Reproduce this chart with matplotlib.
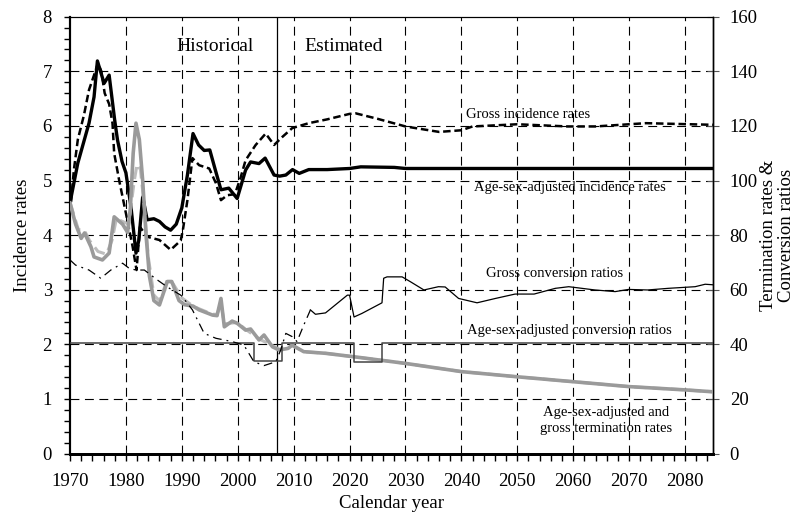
import matplotlib
matplotlib.use("Agg")
import matplotlib.pyplot as plt
from matplotlib.ticker import MultipleLocator

plt.rcParams['font.family'] = ['Liberation Serif', 'DejaVu Serif']

# ---------------- data ----------------
adj_inc_years = [1970, 1971.4, 1973.4, 1974.3, 1974.9, 1976.1, 1977, 1978, 1978.5, 1979.3, 1980,
                 1980.9, 1981.8, 1982.3, 1983, 1983.8, 1985, 1986, 1987, 1988, 1989, 1990, 1991,
                 1992, 1993, 1994, 1995, 1996, 1997, 1998.4, 1999.9, 2001.4, 2002.3, 2003.8,
                 2004.9, 2006.5, 2007.5, 2008.6, 2009.8, 2011, 2012.7, 2016, 2020, 2022, 2028,
                 2030, 2085]
adj_inc_values = [4.59, 5.32, 6.05, 6.53, 7.19, 6.78, 6.93, 6.1, 5.74, 5.35, 5.14,
                  4.52, 3.67, 3.9, 4.7, 4.28, 4.3, 4.25, 4.15, 4.09, 4.2, 4.5, 5.1,
                  5.86, 5.65, 5.55, 5.56, 5.19, 4.83, 4.86, 4.67, 5.19, 5.34, 5.31,
                  5.41, 5.10, 5.08, 5.10, 5.20, 5.13, 5.20, 5.20, 5.22, 5.25, 5.24,
                  5.22, 5.22]

gross_inc_years = [1970, 1970.7, 1971.4, 1972.5, 1973.4, 1974.4, 1975, 1975.6, 1976.2, 1977, 1977.6,
                   1977.9, 1978.8, 1980, 1981.2, 1981.9, 1982.5, 1983.8, 1986, 1988, 1989.8,
                   1990.2, 1991, 1991.9, 1993.1, 1994.9, 1996.1, 1997, 1998.1, 1999.5, 2000.5,
                   2001.4, 2003.2, 2005, 2006.5, 2008, 2009.75, 2012.7, 2016, 2020, 2021.1,
                   2025, 2030, 2036, 2040, 2042, 2050, 2059, 2064, 2073, 2085]
gross_inc_values = [4.4, 5.2, 5.75, 6.2, 6.66, 6.96, 7.15, 7.0, 6.6, 6.4, 6.05,
                    5.5, 5.0, 4.4, 3.79, 3.36, 4.15, 3.97, 3.91, 3.73, 3.9,
                    4.1, 4.64, 5.41, 5.28, 5.22, 4.95, 4.64, 4.73, 4.75, 5.05,
                    5.37, 5.65, 5.86, 5.65, 5.8, 5.96, 6.05, 6.12, 6.22, 6.23,
                    6.13, 5.99, 5.89, 5.92, 5.99, 6.03, 5.99, 5.99, 6.05, 6.02]

adj_term_years = [1970, 1971, 1972, 1972.6, 1973.75, 1974.3, 1975.8, 1977, 1977.9, 1979.4, 1980.3,
                  1980.8, 1981.3, 1981.8, 1982.4, 1983, 1983.6, 1984.2, 1985, 1986, 1987.4,
                  1988.2, 1989.5, 1990.5, 1992, 1993.1, 1995.5, 1996.3, 1997, 1997.6, 1999,
                  1999.9, 2001.4, 2002.3, 2003.8, 2004.7, 2006.2, 2007.4, 2009, 2009.75,
                  2011.8, 2015.7, 2021.7, 2030, 2040, 2050, 2060, 2070, 2080, 2085]
adj_term_values = [91.8, 84, 78.8, 80.8, 75.7, 72, 70.9, 73.4, 86.7, 84, 81,
                   90, 110, 121, 115, 100, 80, 65, 56, 54.4, 63,
                   63, 56, 54.5, 54, 52.6, 50.7, 50.5, 56.8, 46.4, 48.5,
                   47.7, 45.2, 45.6, 41.6, 43.4, 39.1, 37.9, 38.5, 39.7,
                   37.3, 36.7, 35.2, 33, 30, 28.1, 26.3, 24.5, 23.3, 22.6]

gross_term_years = [1970, 1971.5, 1972.5, 1973.5, 1975, 1976.5, 1977.5, 1978.3, 1979.4, 1980.5,
                    1981.5, 1982, 1982.6, 1983.3, 1984, 1985, 1986, 1987.5, 1988.5, 1990,
                    1992, 1993.1, 1995.5, 1996.3, 1997, 1997.6, 1999.9, 2001.4, 2003.8,
                    2006.2, 2007.4, 2009.75, 2011.8, 2015.7, 2021.7, 2030, 2040, 2050, 2060,
                    2070, 2080, 2085]
gross_term_values = [92, 82, 82, 78, 74, 73, 78, 86, 85, 84,
                     100, 106, 104, 90, 72, 58, 56, 64, 62, 57,
                     54, 53, 51, 51, 55, 47.5, 48, 45.5, 42,
                     39.5, 38.2, 39.5, 37.3, 36.7, 35.2, 33, 30, 28.1, 26.3,
                     24.5, 23.3, 22.6]

conv_years = [1970, 1971, 1972.6, 1973.4, 1975.5, 1977.3, 1979.4, 1980.6, 1981.8, 1983.3,
              1985.6, 1987.4, 1989.8, 1990.1, 1991.9, 1994, 1996.1, 1999, 2001.1, 2002.9,
              2004.7, 2006.8, 2007.7, 2008.6, 2009.75, 2010.6, 2011.8, 2013, 2013.9, 2015.7,
              2017.5, 2019.6, 2020, 2020.8, 2022.2, 2025.8, 2026.1, 2026.7, 2029.4, 2030.9,
              2033.3, 2035.9, 2037.1, 2039.5, 2042.8, 2046.1, 2049.6, 2053, 2056.8, 2059.2,
              2063.9, 2067.5, 2069.9, 2073.3, 2077, 2081.8, 2083.6, 2085]
conv_values = [70.9, 69, 67.8, 67.2, 64.2, 67.2, 69.7, 67.8, 67.2, 67.2,
               63.6, 61, 58, 57.4, 52.6, 44, 42.2, 41, 39.7, 33.6,
               32.2, 33.6, 38, 44, 42.8, 41, 47, 52.6, 51, 51.5,
               54.5, 58, 58, 50, 51.3, 55.2, 64.2, 64.7, 64.7, 62.9,
               59.9, 61.1, 61, 56.8, 55.2, 56.8, 58.4, 58.4, 60.5, 61.1,
               59.9, 59.3, 60.1, 59.9, 60.5, 61.1, 62, 61.8]
conv_hist_end = 2013  # dash-dot up to here, solid afterwards

adj_conv_years = [1970, 2002.9, 2007.85, 2020.8, 2025.8, 2085]
adj_conv_values = [40.4, 33.9, 40.4, 33.6, 40.4, 40.4]

x_ticks = list(range(1970, 2090, 10))
divider_year = 2007

# ---------------- figure ----------------
fig = plt.figure(figsize=(8.03, 5.23), dpi=100)
ax = fig.add_axes([70 / 803, 1 - 453.5 / 523, (713 - 70) / 803, (453.5 - 16.7) / 523])
ax2 = ax.twinx()

ax.set_xlim(1970, 2085)
ax.set_ylim(0, 8)
ax2.set_ylim(0, 160)

grid_kw = dict(color='black', lw=0.8, ls=(0, (8, 5)))
for yv in range(1, 8):
    ax.axhline(yv, zorder=0, **grid_kw)
for xv in x_ticks[1:]:
    ax.axvline(xv, zorder=0, **grid_kw)

ax.axvline(divider_year, color='black', lw=0.9, zorder=1)

# incidence rates (left axis)
ax.plot(gross_inc_years, gross_inc_values, color='black', lw=1.8, ls=(0, (3, 1.5)), zorder=3)
ax.plot(adj_inc_years, adj_inc_values, color='black', lw=2.4, zorder=4)

# right axis series
ax2.plot(gross_term_years, gross_term_values, color='#bdbdbd', lw=2.2, ls=(0, (4, 2)), zorder=3)
ax2.plot(adj_term_years, adj_term_values, color='#9a9a9a', lw=2.6, zorder=4)
ax2.plot(adj_conv_years, adj_conv_values, color='#444444', lw=1.1, drawstyle='steps-post', zorder=5)

hx = [y for y in conv_years if y <= conv_hist_end]
hv = conv_values[:len(hx)]
px = conv_years[len(hx) - 1:]
pv = conv_values[len(hx) - 1:]
ax2.plot(hx, hv, color='black', lw=0.9, ls=(0, (7, 4, 1.5, 4)), zorder=5)
ax2.plot(px, pv, color='black', lw=0.9, zorder=5)

# ticks
ax.set_xticks(x_ticks)
ax.xaxis.set_minor_locator(MultipleLocator(2))
ax.yaxis.set_major_locator(MultipleLocator(1))
ax.yaxis.set_minor_locator(MultipleLocator(0.2))
ax.tick_params(axis='x', which='both', direction='out', length=5, width=1, labelsize=13.5, pad=9)
ax.tick_params(axis='y', which='both', direction='out', length=4, width=1, labelsize=13.5, pad=9)
ax2.yaxis.set_major_locator(MultipleLocator(20))
ax2.tick_params(axis='y', which='major', direction='inout', length=8, width=0.8,
                color='#555555', labelsize=13.5, pad=8)

for a in (ax, ax2):
    a.spines['bottom'].set_linewidth(2)
    a.spines['left'].set_linewidth(1.5)
    a.spines['top'].set_linewidth(0.8)
    a.spines['right'].set_linewidth(1)

ax.set_xlabel('Calendar year', fontsize=13.5, labelpad=4)
ax.set_ylabel('Incidence rates', fontsize=13.5, labelpad=8)
ax2.set_ylabel('Termination rates &\nConversion ratios', fontsize=13.5, linespacing=1.05)
ax2.yaxis.set_label_coords((760 - 70) / (713 - 70), 0.5)

ax.text(1996, 7.45, 'Historical', fontsize=14, ha='center', va='center')
ax.text(2011.9, 7.45, 'Estimated', fontsize=14, ha='left', va='center')

small = 10.5
ax2.text(2052, 124, 'Gross incidence rates', fontsize=small, ha='center', va='center')
ax2.text(2059.4, 97.3, 'Age-sex-adjusted incidence rates', fontsize=small, ha='center', va='center')
ax2.text(2056.7, 66.1, 'Gross conversion ratios', fontsize=small, ha='center', va='center')
ax2.text(2059.4, 45.2, 'Age-sex-adjusted conversion ratios', fontsize=small, ha='center', va='center')
ax2.text(2065.8, 12, 'Age-sex-adjusted and\ngross termination rates', fontsize=small,
         ha='center', va='center', linespacing=1.25)

fig.savefig('out.png', dpi=100)
